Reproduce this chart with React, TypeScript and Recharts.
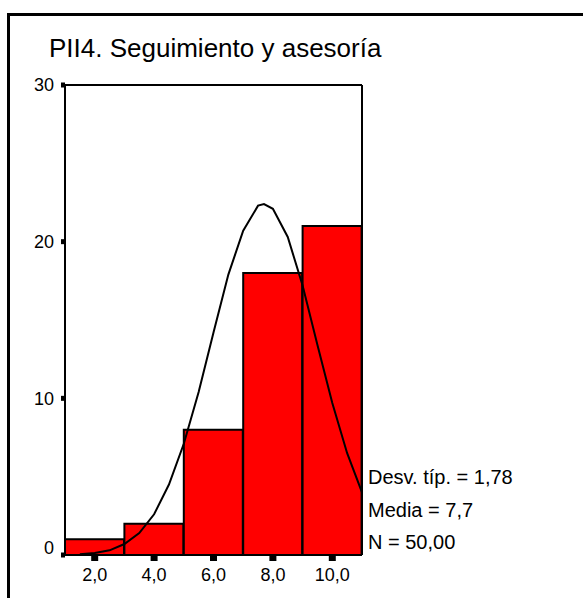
import React from "react";
import { ComposedChart, Bar, Line, XAxis, YAxis } from "recharts";

const BIN_CENTERS = [2, 4, 6, 8, 10];
const COUNTS = [1, 2, 8, 18, 21];

// normal curve
const CURVE_X = [1.5, 2, 2.5, 3, 3.5, 4, 4.5, 5, 5.5, 6, 6.5, 7, 7.5, 7.7, 8, 8.5, 9, 9.5, 10, 10.5, 11];
const CURVE_Y = [0.05, 0.13, 0.3, 0.7, 1.4, 2.6, 4.5, 7.1, 10.4, 14.2, 17.9, 20.7, 22.3, 22.4, 22.1, 20.3, 17.2, 13.4, 9.7, 6.5, 4.0];

const X_TICKS = [2, 4, 6, 8, 10];
const Y_TICKS = [0, 10, 20, 30];

const STATS = ["Desv. típ. = 1,78", "Media = 7,7", "N = 50,00"];

const FONT = "'Liberation Sans', Arial, sans-serif";

const bins = BIN_CENTERS.map((x, i) => ({ x, count: COUNTS[i] }));
const curve = CURVE_X.map((x, i) => ({ x, y: CURVE_Y[i] }));

const YTick = (props: any) => {
  const { x, y, payload } = props;
  // SPSS puts the 0 label a bit higher than its tick
  const shift = payload.value === 0 ? -7 : 0;
  return (
    <text x={x} y={y + shift} dy="0.355em" textAnchor="end" fill="#000" fontSize={18} fontFamily={FONT}>
      {payload.value}
    </text>
  );
};

export default function App() {
  return (
    <div style={{ position: "absolute", left: 0, top: 0, width: 583, height: 598, overflow: "hidden", background: "#fff" }}>
      <div
        style={{
          position: "absolute", left: 7, top: 13, width: 583, height: 598,
          borderLeft: "3px solid #000", borderTop: "3px solid #000",
        }}
      />
      <div style={{ position: "absolute", left: 49, top: 35, fontFamily: FONT, fontSize: 26, lineHeight: "26px", color: "#000", whiteSpace: "nowrap" }}>
        PII4. Seguimiento y asesoría
      </div>
      <div style={{ position: "absolute", left: 0, top: 0 }}>
        <ComposedChart
          width={583}
          height={598}
          data={bins}
          barCategoryGap={0}
          margin={{ top: 84, right: 220, bottom: 0, left: 0 }}
        >
          <XAxis
            dataKey="x"
            type="number"
            domain={[1, 11]}
            allowDataOverflow
            ticks={X_TICKS}
            tickFormatter={(v: number) => v.toFixed(1).replace(".", ",")}
            height={43}
            axisLine={{ stroke: "#000", strokeWidth: 2 }}
            tickLine={{ stroke: "#000", strokeWidth: 7 }}
            tickSize={6}
            tickMargin={7}
            tick={{ fill: "#000", fontSize: 18, fontFamily: FONT }}
          />
          <XAxis
            xAxisId="top"
            dataKey="x"
            orientation="top"
            type="number"
            domain={[1, 11]}
            allowDataOverflow
            height={1}
            tick={false}
            tickLine={false}
            axisLine={{ stroke: "#000", strokeWidth: 2 }}
          />
          <YAxis
            type="number"
            domain={[0, 30]}
            ticks={Y_TICKS}
            width={65}
            axisLine={{ stroke: "#000", strokeWidth: 2 }}
            tickLine={{ stroke: "#000", strokeWidth: 5 }}
            tickSize={4}
            tickMargin={7}
            tick={<YTick />}
          />
          <YAxis
            yAxisId="right"
            orientation="right"
            type="number"
            domain={[0, 30]}
            width={1}
            tick={false}
            tickLine={false}
            axisLine={{ stroke: "#000", strokeWidth: 2 }}
          />
          <Bar dataKey="count" fill="#ff0000" stroke="#000" strokeWidth={2} isAnimationActive={false} />
          <Line
            data={curve}
            xAxisId="top"
            yAxisId="right"
            dataKey="y"
            type="linear"
            stroke="#000"
            strokeWidth={2}
            dot={false}
            isAnimationActive={false}
          />
        </ComposedChart>
      </div>
      {STATS.map((s, i) => (
        <div
          key={s}
          style={{ position: "absolute", left: 368, top: 467 + i * 32.5, fontFamily: FONT, fontSize: 20, lineHeight: "20px", color: "#000", whiteSpace: "nowrap" }}
        >
          {s}
        </div>
      ))}
    </div>
  );
}
